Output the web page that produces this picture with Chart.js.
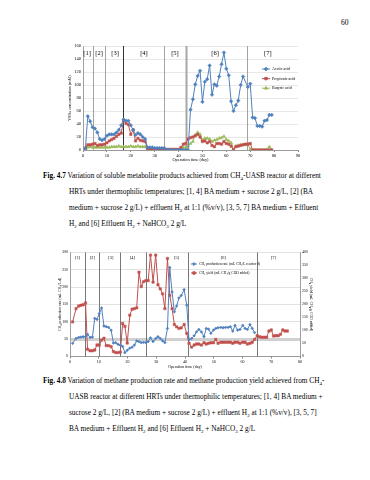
<!DOCTYPE html>
<html>
<head>
<meta charset="utf-8">
<script src="https://cdn.jsdelivr.net/npm/chart.js@4.4.0/dist/chart.umd.min.js"></script>
<style>
body{margin:0;background:#fff;width:370px;height:480px;position:relative;overflow:hidden;font-family:"Liberation Serif",serif;color:#000}
canvas{position:absolute}
.ln{position:absolute;white-space:nowrap;font-size:7.3px;line-height:9px}
.ln sub{font-size:5px;vertical-align:-1.5px;line-height:0}
.pg{position:absolute;left:341px;top:18px;font-size:7.5px}
</style>
</head>
<body>
<div class="pg">60</div>
<canvas id="vfa" width="284" height="124" style="left:66px;top:38px"></canvas>

<div class="ln" style="left:43px;top:171px"><b>Fig. 4.7</b> Variation of soluble metabolite products achieved from CH<sub>4</sub>-UASB reactor at different</div>
<div class="ln" style="left:69px;top:187px">HRTs under thermophilic temperatures; [1, 4] BA medium + sucrose 2 g/L, [2] (BA</div>
<div class="ln" style="left:69px;top:203px">medium + sucrose 2 g/L) + effluent H<sub>2</sub> at 1:1 (%v/v), [3, 5, 7] BA medium + Effluent</div>
<div class="ln" style="left:69px;top:219px">H<sub>2</sub> and [6] Effluent H<sub>2</sub> + NaHCO<sub>3</sub> 2 g/L</div>

<canvas id="ch4" width="257" height="121" style="left:57px;top:248px"></canvas>

<div class="ln" style="left:43px;top:376px"><b>Fig. 4.8</b> Variation of methane production rate and methane production yield achieved from CH<sub>4</sub>-</div>
<div class="ln" style="left:69px;top:392px">UASB reactor at different HRTs under thermophilic temperatures; [1, 4] BA medium +</div>
<div class="ln" style="left:69px;top:408px">sucrose 2 g/L, [2] (BA medium + sucrose 2 g/L) + effluent H<sub>2</sub> at 1:1 (%v/v), [3, 5, 7]</div>
<div class="ln" style="left:69px;top:424px">BA medium + Effluent H<sub>2</sub> and [6] Effluent H<sub>2</sub> + NaHCO<sub>3</sub> 2 g/L</div>

<script>
// ---- Fig 4.7 data (VFAs, mM) ----
var days1 = [1,2,3,4,5,6,7,8,9,10,11,12,13,14,15,16,17,18,19,20,
  21,22,23,24,25,26,27,28,29,30,31,32,33,34,35,36,37,38,39,40,
  41,42,43,44,45,46,47,48,49,50,51,52,53,54,55,56,57,58,59,60,
  61,62,63,64,65,66,67,68,69,70,71,72,73,74,75,76,77,78,79];
var acetic = [2,52,44,35,33,27,17,15,17,22,24,24,24,27,31,38,47,45,45,38,
  31,23,26,24,20,17,4,4,4,3,3,3,3,3,0,0,0,0,0,0,
  0,0,0,0,62,78,101,114,122,74,105,109,130,85,101,99,113,132,150,125,
  115,75,60,69,76,100,113,null,97,102,50,49,37,37,36,45,46,54,54];
var propionic = [3,8,8,9,10,7,8,8,9,11,14,16,18,21,24,26,46,41,39,24,
  31,14,18,15,14,13,2,1,1,1,1,1,1,1,1,1,1,1,1,1,
  4,9,10,17,19,20,22,24,20,13,14,11,13,7,5,10,10,9,13,10,
  9,6,0,5,6,7,8,9,9,10,0,0,0,0,0,0,0,0,0];
var butyric = [2,4,5,4,4,4,4,4,4,4,4,5,5,5,6,5,5,5,5,6,
  5,5,6,5,5,5,0,0,0,0,0,0,0,0,0,0,0,0,0,0,
  0,4,4,6,10,13,23,27,24,15,18,18,17,13,15,16,18,19,21,16,
  14,11,1,6,7,8,8,8,9,1,0,0,0,0,0,0,0,5,0];
var phases1 = ['[1]','[2]','[3]','[4]','[5]','[6]','[7]'];
var phaseEnds1 = [4.2, 9.2, 16.8, 34, 43, 68.6];
var phaseMid1 = [1.7, 6.7, 13.4, 25.5, 38.5, 55.3, 77.4];

// ---- Fig 4.8 data ----
var days2 = [0.9,2.1,3.0,3.8,4.6,5.4,6.1,7.0,7.8,8.6,9.4,10.2,11.0,11.8,12.6,13.4,14.3,15.1,15.9,16.7,
  17.5,18.3,19.1,19.9,20.8,21.6,22.4,23.2,24.0,24.8,25.6,26.4,27.2,28.0,28.9,29.8,30.6,31.4,32.2,33.0,
  33.9,34.7,35.5,36.3,37.1,37.9,38.7,39.7,40.6,41.4,42.3,43.2,44.0,44.8,45.7,46.6,47.4,48.2,49.0,49.9,
  50.7,51.5,52.5,53.3,54.1,55.0,55.8,56.6,57.4,58.3,59.1,60.1,60.9,61.7,62.6,63.4,64.2,65.1,65.9,66.7,
  67.6,68.4,69.2,70.0,70.8,71.6,72.4,73.2,74.0,74.8,75.6];
var ch4Rate = [38,52,55,56,57,57,64,55,56,110,107,124,140,88,86,84,76,39,40,35,
  33,29,11,18,24,27,33,45,43,40,41,40,43,54,43,52,57,52,45,40,
  81,257,186,129,146,169,176,193,148,48,52,60,71,78,71,57,81,79,67,76,
  81,83,84,83,84,84,86,73,90,76,78,90,81,78,92,81,69,null,null,null,
  null,null,null,null,null,null,null,null,null,null,null];
var ch4Yield = [133,184,194,197,199,206,28,22,22,25,44,44,63,70,42,42,38,19,15,15,
  17,127,116,52,159,182,184,187,324,269,288,292,292,390,286,390,276,260,241,184,
  377,235,184,123,114,108,110,123,89,51,36,44,48,48,44,53,48,51,53,53,
  66,51,55,55,55,55,55,51,55,55,51,55,55,48,51,55,66,80,76,74,
  74,74,98,102,79,80,80,85,102,98,98];
var phases2 = ['[1]','[2]','[3]','[4]','[5]','[6]','[7]'];
var phaseEnds2 = [5.2, 10.1, 17.3, 26.3, 41.1, 65];
var phaseMid2 = [2.7, 7.8, 14.2, 21.7, 37.1, 53.3, 70.7];

function pts(xs, ys) {
  return ys.map(function(v, i) { return {x: xs[i], y: v}; });
}

var blue = '#4F81BD', red = '#C0504D', green = '#9BBB59';
var serif = 'Liberation Serif';

// separators, phase tags and an in-plot legend
var phasePlugin = {
  id: 'phases',
  beforeDatasetsDraw: function(chart, args, o) {
    var ctx = chart.ctx, xs = chart.scales.x, a = chart.chartArea;
    ctx.save();
    o.ends.forEach(function(d, i) {
      var px = Math.round(xs.getPixelForValue(d)) + 0.5;
      ctx.strokeStyle = o.colors[i];
      ctx.lineWidth = o.widths[i];
      ctx.beginPath();
      ctx.moveTo(px, a.top);
      ctx.lineTo(px, a.bottom);
      ctx.stroke();
    });
    ctx.fillStyle = '#000';
    ctx.font = o.font;
    ctx.textAlign = 'center';
    ctx.textBaseline = 'middle';
    o.names.forEach(function(n, i) {
      ctx.fillText(n, xs.getPixelForValue(o.mids[i]), a.top + o.nameOffset);
    });
    ctx.restore();
  },
  afterDraw: function(chart, args, o) {
    var ctx = chart.ctx;
    ctx.save();
    ctx.font = o.legendFont;
    ctx.textAlign = 'left';
    ctx.textBaseline = 'middle';
    chart.data.datasets.forEach(function(ds, i) {
      var x = o.legendX, y = o.legendY + i * o.legendGap;
      ctx.strokeStyle = ds.borderColor;
      ctx.fillStyle = ds.backgroundColor;
      ctx.lineWidth = 1;
      ctx.beginPath();
      ctx.moveTo(x, y);
      ctx.lineTo(x + o.legendLine, y);
      ctx.stroke();
      Chart.helpers.drawPoint(ctx, {pointStyle: ds.pointStyle, radius: ds.pointRadius, borderWidth: 1, rotation: 0}, x + o.legendLine / 2, y);
      ctx.fillStyle = '#000';
      ctx.fillText(ds.label, x + o.legendLine + 2, y);
    });
    ctx.restore();
  }
};

function series(label, xs, ys, color, style, r, axis) {
  return {
    label: label,
    data: pts(xs, ys),
    borderColor: color,
    backgroundColor: color,
    borderWidth: 1,
    pointStyle: style,
    pointRadius: r,
    pointBorderWidth: 0.5,
    yAxisID: axis || 'y',
    spanGaps: true
  };
}

new Chart(document.getElementById('vfa'), {
  type: 'line',
  data: {
    datasets: [
      series('Acetic acid', days1, acetic, blue, 'rectRot', 1.8),
      series('Propionic acid', days1, propionic, red, 'rect', 1.7),
      series('Butyric acid', days1, butyric, green, 'triangle', 1.8)
    ]
  },
  options: {
    responsive: false,
    devicePixelRatio: 1,
    animation: false,
    layout: {padding: {top: 8, right: 52, left: 0, bottom: 0}},
    plugins: {
      legend: {display: false},
      tooltip: {enabled: false},
      phases: {
        ends: phaseEnds1, names: phases1, mids: phaseMid1,
        colors: ['#8c8c8c', '#8c8c8c', '#333', '#8c8c8c', '#a6a6a6', '#8c8c8c'],
        widths: [0.8, 0.8, 1, 0.8, 2, 0.8],
        font: '6.5px "Liberation Serif"', nameOffset: 7.5,
        legendX: 196, legendY: 31, legendGap: 9.6, legendLine: 8,
        legendFont: '4px "Liberation Serif"'
      }
    },
    scales: {
      x: {
        type: 'linear', min: 0, max: 90,
        afterFit: function(s) { s.height = 12; },
        ticks: {stepSize: 10, color: '#000', font: {family: serif, size: 4.5}, padding: 1, maxRotation: 0},
        grid: {drawOnChartArea: false, tickLength: 2, color: '#888'},
        border: {color: '#888', width: 0.8},
        title: {display: true, text: 'Operation time (day)', color: '#000', font: {family: serif, size: 4.3}, padding: 0}
      },
      y: {
        min: 0, max: 160,
        afterFit: function(s) { s.width = 17; },
        ticks: {stepSize: 20, color: '#000', font: {family: serif, size: 4.5}, padding: 2},
        grid: {color: '#d9d9d9', lineWidth: 0.6, drawTicks: false},
        border: {color: '#888', width: 0.8},
        title: {display: true, text: 'VFAs concentration (mM)', color: '#000', font: {family: serif, size: 4.3}, padding: {top: 1, bottom: 0}}
      }
    }
  },
  plugins: [phasePlugin]
});

new Chart(document.getElementById('ch4'), {
  type: 'line',
  data: {
    datasets: [
      series('CH\u2084 production rate (mL CH\u2084/L reactor d)', days2, ch4Rate, blue, 'rectRot', 1.4, 'y'),
      series('CH\u2084 yield (mL CH\u2084/g COD added)', days2, ch4Yield, red, 'rect', 1.7, 'y1')
    ]
  },
  options: {
    responsive: false,
    devicePixelRatio: 1,
    animation: false,
    layout: {padding: {top: 3, right: 0, left: 0, bottom: 0}},
    plugins: {
      legend: {display: false},
      tooltip: {enabled: false},
      phases: {
        ends: phaseEnds2, names: phases2, mids: phaseMid2,
        colors: ['#555', '#555', '#555', '#555', '#555', '#555'],
        widths: [0.8, 0.8, 0.8, 0.8, 0.8, 0.8],
        font: '4.3px "Liberation Serif"', nameOffset: 5,
        legendX: 134, legendY: 16, legendGap: 9, legendLine: 6,
        legendFont: '3.6px "Liberation Serif"'
      }
    },
    scales: {
      x: {
        type: 'linear', min: 0, max: 80,
        afterFit: function(s) { s.height = 12.5; },
        ticks: {stepSize: 10, color: '#000', font: {family: serif, size: 4}, padding: 1, maxRotation: 0},
        grid: {drawOnChartArea: false, tickLength: 2, color: '#888'},
        border: {color: '#888', width: 0.8},
        title: {display: true, text: 'Operation time (day)', color: '#000', font: {family: serif, size: 4}, padding: 0}
      },
      y: {
        position: 'left', min: 0, max: 300,
        afterFit: function(s) { s.width = 13; },
        ticks: {stepSize: 50, color: '#000', font: {family: serif, size: 3.8}, padding: 2},
        grid: {
          drawTicks: false,
          color: function(c) { return c.tick && c.tick.value === 50 ? '#d0d0d0' : '#cfcfcf'; },
          lineWidth: function(c) { return c.tick && c.tick.value === 50 ? 3 : 0.6; }
        },
        border: {color: '#888', width: 0.8},
        title: {display: true, text: 'CH\u2084 production rate (mL CH\u2084/L.d)', color: '#000', font: {family: serif, size: 3.8}, padding: {top: 1, bottom: 0}}
      },
      y1: {
        position: 'right', min: 0, max: 400,
        afterFit: function(s) { s.width = 14; },
        ticks: {stepSize: 50, color: '#000', font: {family: serif, size: 3.8}, padding: 2},
        grid: {drawOnChartArea: false, drawTicks: false},
        border: {color: '#888', width: 0.8},
        title: {display: true, text: 'CH\u2084 yield (mL CH\u2084/g COD added)', color: '#000', font: {family: serif, size: 3.8}, padding: {top: 1, bottom: 0}}
      }
    }
  },
  plugins: [phasePlugin]
});
</script>
</body>
</html>
